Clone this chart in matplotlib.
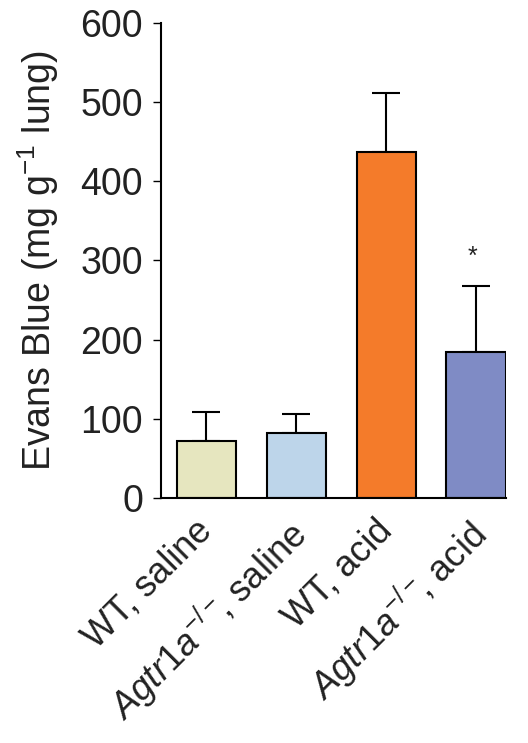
import numpy as np
import matplotlib.pyplot as plt
import matplotlib.transforms as mtransforms

plt.rcParams['font.family'] = ['Liberation Sans', 'DejaVu Sans']
plt.rcParams['mathtext.fontset'] = 'custom'
plt.rcParams['mathtext.rm'] = 'Liberation Sans'
plt.rcParams['mathtext.it'] = 'Liberation Sans:italic'

groups = ["WT, saline", r"$\mathit{Agtr1a}^{-/-}\!\!$, saline", "WT, acid", r"$\mathit{Agtr1a}^{-/-}\!\!$, acid"]
means = [72, 82, 437, 184]
errors = [37, 24, 75, 84]
colors = ["#e6e6bf", "#bdd5ea", "#f47b2a", "#7f8bc5"]
significant = [False, False, False, True]
yticks = [0, 100, 200, 300, 400, 500, 600]


def plot_bars():
    fig = plt.figure(figsize=(5.28, 7.43), dpi=100)
    ax = fig.add_axes([0.305, 0.330, 0.653, 0.639])

    x = np.arange(len(groups))
    ax.bar(x, means, width=0.66, color=colors, edgecolor='black', linewidth=1.5, zorder=2)
    ax.errorbar(x, means, yerr=[np.zeros(len(errors)), errors], fmt='none',
                ecolor='black', elinewidth=1.5, capsize=10, capthick=1.5, zorder=1)

    # significance marker above the error bar
    for xi, m, e, s in zip(x, means, errors, significant):
        if s:
            ax.annotate("*", (xi, m + e), xytext=(-3, 12), textcoords='offset points',
                        ha='center', va='bottom', fontsize=18, color='#222222')

    ax.set_xlim(-0.505, 3.33)
    ax.set_ylim(0, 600)
    ax.set_yticks(yticks)
    ax.tick_params(axis='y', labelsize=27, length=6, width=1, pad=7, labelcolor='#222222')
    ax.tick_params(axis='x', length=0, pad=8)
    ax.set_xticks(x)
    ax.set_xticklabels(groups, rotation=45, ha='right', va='top',
                       rotation_mode='anchor', fontsize=26, color='#222222')
    # nudge the rotated labels a little left/down
    shift = mtransforms.ScaledTranslation(-0.12, -0.04, fig.dpi_scale_trans)
    for lab in ax.get_xticklabels():
        lab.set_transform(lab.get_transform() + shift)

    ax.set_ylabel(r"Evans Blue (mg g$^{-1}$ lung)", fontsize=27, labelpad=14, color='#222222')
    for side in ['top', 'right']:
        ax.spines[side].set_visible(False)
    ax.spines['left'].set_linewidth(1.5)
    ax.spines['bottom'].set_linewidth(1.5)

    fig.savefig("out.png", dpi=100)


if __name__ == "__main__":
    plot_bars()
